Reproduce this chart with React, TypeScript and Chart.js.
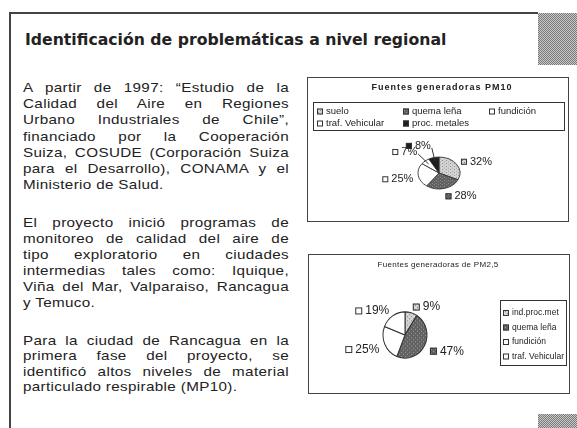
import React, { useEffect, useRef } from "react";
import { Chart, registerables } from "chart.js";
Chart.register(...registerables);

const TITLE = "Identificación de problemáticas a nivel regional";

const PARA1 = [
  "A partir de 1997: “Estudio de la",
  "Calidad del Aire en Regiones",
  "Urbano Industriales de Chile”,",
  "financiado por la Cooperación",
  "Suiza, COSUDE (Corporación Suiza",
  "para el Desarrollo), CONAMA y el",
  "Ministerio de Salud.",
];
const PARA2 = [
  "El proyecto inició programas de",
  "monitoreo de calidad del aire de",
  "tipo exploratorio en ciudades",
  "intermedias tales como: Iquique,",
  "Viña del Mar, Valparaiso, Rancagua",
  "y Temuco.",
];
const PARA3 = [
  "Para la ciudad de Rancagua en la",
  "primera fase del proyecto, se",
  "identificó altos niveles de material",
  "particulado respirable (MP10).",
];

const pm10Title = "Fuentes generadoras PM10";
const pm10Labels = ["suelo", "quema leña", "fundición", "traf. Vehicular", "proc. metales"];
const pm10Values = [32, 28, 25, 7, 8];

const pm25Title = "Fuentes generadoras de PM2,5";
const pm25Labels = ["ind.proc.met", "quema leña", "fundición", "traf. Vehicular"];
const pm25Values = [9, 47, 25, 19];

const FONT = "'Liberation Sans', Arial, sans-serif";

function makePattern(base: string, dot: string, pts: number[][], size: number) {
  const c = document.createElement("canvas");
  c.width = size;
  c.height = size;
  const g = c.getContext("2d")!;
  g.fillStyle = base;
  g.fillRect(0, 0, size, size);
  g.fillStyle = dot;
  pts.forEach(([x, y]) => g.fillRect(x, y, 1, 1));
  const ctx = document.createElement("canvas").getContext("2d")!;
  return ctx.createPattern(c, "repeat")!;
}

type Fill = string | CanvasPattern;

const piePlugin = {
  id: "pieDecor",
  beforeDatasetsDraw(chart: any, _a: any, opts: any) {
    const arc = chart.getDatasetMeta(0).data[0];
    const ctx = chart.ctx;
    ctx.save();
    ctx.translate(arc.x, arc.y);
    ctx.scale(1, opts.scaleY);
    ctx.translate(-arc.x, -arc.y);
  },
  afterDatasetsDraw(chart: any, _a: any, opts: any) {
    const ctx = chart.ctx as CanvasRenderingContext2D;
    ctx.restore();
    const ds = chart.data.datasets[0];
    const values: number[] = ds.data;
    const fills: Fill[] = ds.backgroundColor;
    const meta = chart.getDatasetMeta(0);
    ctx.save();
    ctx.font = `${opts.labelSize}px ${FONT}`;
    ctx.textBaseline = "middle";
    meta.data.forEach((arc: any, i: number) => {
      const p = arc.getProps(["x", "y", "startAngle", "endAngle", "outerRadius"], true);
      const mid = (p.startAngle + p.endAngle) / 2;
      const c = Math.cos(mid);
      const s = Math.sin(mid);
      const rx = p.outerRadius;
      const ry = p.outerRadius * opts.scaleY;
      const small = values[i] < opts.smallLimit;
      const d = small ? opts.farDist : opts.dist;
      const ax = p.x + c * (rx + d);
      const ay = p.y + s * (ry + d) + (s > 0 ? opts.lowShift : 0);
      const text = `${values[i]}%`;
      const tw = ctx.measureText(text).width;
      const ms = opts.marker;
      const total = ms + 3 + tw;
      const left = c >= 0 ? ax : ax - total;
      if (small) {
        ctx.strokeStyle = "#333";
        ctx.lineWidth = 1;
        ctx.beginPath();
        ctx.moveTo(c >= 0 ? left : left + total + 1, ay + 2);
        ctx.lineTo(p.x + c * rx * 0.75, p.y + s * ry * 0.75);
        ctx.stroke();
      }
      ctx.fillStyle = fills[i] as any;
      ctx.fillRect(left, ay - ms / 2, ms, ms);
      ctx.strokeStyle = "#333";
      ctx.lineWidth = 1;
      ctx.strokeRect(left + 0.5, ay - ms / 2 + 0.5, ms - 1, ms - 1);
      ctx.fillStyle = "#222";
      ctx.textAlign = "left";
      ctx.fillText(text, left + ms + 3, ay);
    });
    ctx.restore();
  },
  afterDraw(chart: any, _a: any, opts: any) {
    const ctx = chart.ctx as CanvasRenderingContext2D;
    const labels: string[] = chart.data.labels;
    const fills: Fill[] = chart.data.datasets[0].backgroundColor;
    ctx.save();
    ctx.font = opts.titleFont;
    (ctx as any).letterSpacing = opts.titleSpacing;
    ctx.fillStyle = "#222";
    ctx.textAlign = "center";
    ctx.textBaseline = "middle";
    ctx.fillText(opts.title, opts.titleX, opts.titleY);
    (ctx as any).letterSpacing = "0px";
    const L = opts.legend;
    ctx.strokeStyle = "#333";
    ctx.lineWidth = 1;
    ctx.strokeRect(L.x + 0.5, L.y + 0.5, L.w, L.h);
    ctx.font = `${L.size}px ${FONT}`;
    ctx.textAlign = "left";
    labels.forEach((lab, i) => {
      const col = L.cols ? i % L.cols : 0;
      const row = L.cols ? Math.floor(i / L.cols) : i;
      const x = L.x + L.padX + col * L.colW;
      const y = L.y + L.padY + row * L.rowH;
      ctx.fillStyle = fills[i] as any;
      ctx.fillRect(x, y - 3, 6, 6);
      ctx.strokeStyle = "#333";
      ctx.strokeRect(x + 0.5, y - 2.5, 5, 5);
      ctx.fillStyle = "#222";
      ctx.fillText(lab, x + 9, y);
    });
    ctx.restore();
  },
};

function PieBox(props: {
  left: number;
  top: number;
  width: number;
  height: number;
  labels: string[];
  values: number[];
  kind: "pm10" | "pm25";
}) {
  const ref = useRef<HTMLCanvasElement>(null);
  const { width, height, kind, labels, values } = props;
  useEffect(() => {
    const light = makePattern("#d4d4d4", "#8a8a8a", [[0, 0], [2, 2]], 4);
    const dark = makePattern("#626262", "#9a9a9a", [[0, 0], [2, 2]], 4);
    const fills: Fill[] =
      kind === "pm10"
        ? [light, dark, "#ffffff", "#ffffff", "#1e1e1e"]
        : [light, dark, "#ffffff", "#ffffff"];
    const cx = kind === "pm10" ? 131 : 96;
    const cy = kind === "pm10" ? 95 : 80;
    const radius = kind === "pm10" ? 21 : 22;
    const half = 26;
    const deco =
      kind === "pm10"
        ? {
            scaleY: 0.76,
            labelSize: 11,
            dist: 5,
            farDist: 12,
            smallLimit: 9,
            lowShift: 3,
            marker: 6,
            title: pm10Title,
            titleFont: `bold 9px ${FONT}`,
            titleSpacing: "1px",
            titleX: 134,
            titleY: 10,
            legend: { x: 5, y: 24, w: 251, h: 28, size: 9.5, cols: 3, colW: 86, rowH: 12, padX: 4, padY: 9.5 },
          }
        : {
            scaleY: 1.05,
            labelSize: 12,
            dist: 6,
            farDist: 6,
            smallLimit: 0,
            lowShift: 3,
            marker: 7,
            title: pm25Title,
            titleFont: `8px ${FONT}`,
            titleSpacing: "0.3px",
            titleX: 129,
            titleY: 10,
            legend: { x: 191, y: 45, w: 66, h: 65, size: 8.5, cols: 0, colW: 0, rowH: 14.5, padX: 3, padY: 13 },
          };
    const chart = new Chart(ref.current!, {
      type: "pie",
      data: {
        labels,
        datasets: [
          {
            data: values,
            backgroundColor: fills as any,
            borderColor: "#333",
            borderWidth: 1,
            radius,
          } as any,
        ],
      },
      options: {
        responsive: false,
        animation: false,
        devicePixelRatio: 1,
        layout: {
          padding: { left: cx - half, right: width - cx - half, top: cy - half, bottom: height - cy - half },
        },
        plugins: {
          legend: { display: false },
          tooltip: { enabled: false },
          pieDecor: deco,
        } as any,
      },
      plugins: [piePlugin],
    });
    return () => chart.destroy();
  }, []);
  return (
    <div
      style={{
        position: "absolute",
        left: props.left,
        top: props.top,
        width: width,
        height: height,
        border: "1px solid #444",
        background: "#fff",
      }}
    >
      <canvas ref={ref} width={width} height={height} style={{ display: "block" }} />
    </div>
  );
}

const STRETCH = 1.17;

function Para(props: { lines: string[]; top: number; lh: number }) {
  return (
    <div
      style={{
        position: "absolute",
        left: 23,
        top: props.top,
        width: 266 / STRETCH,
        transform: `scaleX(${STRETCH})`,
        transformOrigin: "0 0",
        fontFamily: FONT,
        fontSize: 13,
        letterSpacing: "0.3px",
        lineHeight: `${props.lh}px`,
        color: "#222",
      }}
    >
      {props.lines.map((l, i) => (
        <div
          key={i}
          style={{
            whiteSpace: "nowrap",
            textAlign: "justify",
            textAlignLast: i === props.lines.length - 1 ? "left" : "justify",
          }}
        >
          {l}
        </div>
      ))}
    </div>
  );
}

const texture = "repeating-conic-gradient(#7c7c7c 0% 25%, #c6c6c6 0% 50%) 0 0 / 2px 2px";

export default function App() {
  return (
    <div
      style={{
        position: "fixed",
        left: 0,
        top: 0,
        width: 577,
        height: 428,
        background: "#fff",
        overflow: "hidden",
      }}
    >
      <div style={{ position: "absolute", left: 9, top: 12, width: 529, height: 2, background: "#444" }} />
      <div style={{ position: "absolute", left: 9, top: 12, width: 2, height: 416, background: "#444" }} />
      <div style={{ position: "absolute", left: 538, top: 13, width: 39, height: 52, background: texture }} />
      <div style={{ position: "absolute", left: 538, top: 414, width: 39, height: 14, background: texture }} />
      <div
        style={{
          position: "absolute",
          left: 25,
          top: 30,
          fontFamily: "'DejaVu Sans', Verdana, sans-serif",
          fontWeight: "bold",
          fontSize: 15.7,
          lineHeight: "20px",
          color: "#222",
          whiteSpace: "nowrap",
        }}
      >
        {TITLE}
      </div>
      <Para lines={PARA1} top={80} lh={16.2} />
      <Para lines={PARA2} top={215} lh={16} />
      <Para lines={PARA3} top={333} lh={15.3} />
      <PieBox left={307} top={77} width={260} height={143} labels={pm10Labels} values={pm10Values} kind="pm10" />
      <PieBox left={308} top={254} width={260} height={138} labels={pm25Labels} values={pm25Values} kind="pm25" />
    </div>
  );
}
